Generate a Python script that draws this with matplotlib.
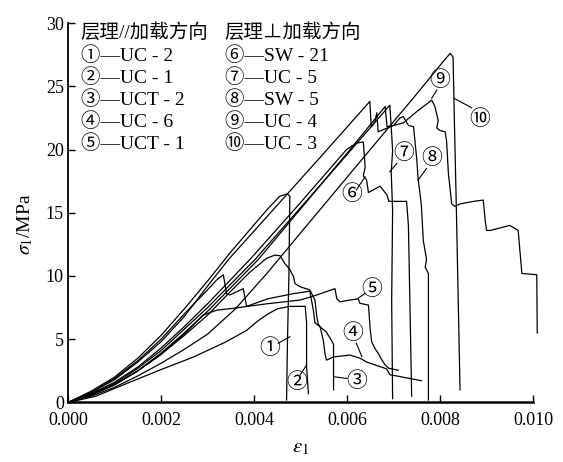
import matplotlib.pyplot as plt
import numpy as np

plt.rcParams['font.family'] = ['Liberation Serif', 'Noto Sans CJK SC', 'DejaVu Sans']
plt.rcParams['mathtext.fontset'] = 'stix'

# strain in units of 1e-3, stress in MPa
c1_e = [0, 0.5, 1.0, 1.5, 2.0, 2.5, 3.0, 3.5, 4.27, 4.55, 4.72, 4.77, 4.75, 4.72, 4.70]
c1_s = [0, 0.9, 2.0, 3.5, 5.3, 7.4, 9.6, 11.9, 15.2, 16.3, 16.5, 16.3, 10.0, 5.0, 0.2]

c2_e = [0, 0.6, 1.26, 2.0, 2.7, 3.4, 3.84, 4.1, 4.3, 4.5, 4.77, 5.1, 5.13, 5.13, 5.17]
c2_s = [0, 0.5, 1.5, 2.6, 3.6, 4.8, 5.7, 6.5, 7.0, 7.4, 7.6, 7.6, 6.3, 2.8, 0.7]

c3_e = [0, 0.5, 1.0, 1.5, 2.0, 2.5, 3.0, 3.2, 3.34, 3.41, 3.48, 3.77, 3.84, 4.3, 4.84,
        5.2, 5.28, 5.31, 5.38, 5.55, 5.65, 5.71, 5.71]
c3_s = [0, 0.8, 1.9, 3.3, 5.0, 7.0, 8.9, 9.7, 10.1, 8.6, 8.5, 9.0, 7.6, 8.2, 8.6,
        8.8, 7.2, 6.3, 6.1, 5.6, 5.0, 4.6, 1.0]

c4_e = [0, 0.5, 1.0, 1.5, 2.0, 2.5, 3.0, 3.5, 3.91, 4.27, 4.45, 4.56, 4.66, 4.77, 4.85,
        4.88, 4.99, 5.2, 5.31, 5.35, 5.38, 5.42, 5.49, 5.53, 5.56, 5.71, 6.06, 6.28,
        6.42, 6.85, 6.92, 7.35, 7.6]
c4_s = [0, 0.6, 1.4, 2.5, 3.8, 5.3, 6.9, 8.8, 10.3, 11.4, 11.65, 11.6, 11.0, 10.5, 9.95,
        9.4, 9.15, 8.9, 8.1, 6.8, 6.2, 6.0, 4.9, 3.75, 3.35, 3.6, 3.75, 3.5,
        3.2, 2.66, 2.2, 1.9, 1.72]

c5_e = [0, 0.5, 1.0, 1.5, 2.0, 2.5, 2.9, 3.2, 3.56, 4.27, 4.99, 5.27, 5.74, 5.78, 5.85,
        6.06, 6.24, 6.28, 6.46, 6.5, 6.53, 6.6, 6.67, 6.75, 6.82, 6.9, 7.1]
c5_s = [0, 0.6, 1.4, 2.5, 3.8, 5.4, 6.9, 7.3, 7.45, 7.8, 8.1, 8.4, 9.0, 8.2, 7.96,
        8.1, 8.2, 7.84, 7.7, 5.73, 4.8, 4.28, 3.88, 3.36, 2.96, 2.7, 2.55]

c6_e = [0, 0.5, 1.0, 1.5, 2.0, 2.5, 3.0, 3.91, 5.0, 5.99, 6.2, 6.35, 6.39, 6.35, 6.42,
        6.46, 6.71, 6.86, 6.9, 7.28, 7.32, 7.39]
c6_s = [0, 0.7, 1.6, 2.8, 4.3, 6.0, 7.8, 11.3, 15.8, 20.0, 20.5, 20.6, 18.6, 17.9, 17.6,
        16.6, 17.1, 16.4, 15.9, 15.9, 14.0, 0.5]

c7_e = [0, 0.5, 1.0, 1.5, 2.0, 2.5, 3.0, 4.02, 5.0, 6.0, 6.92, 6.95, 6.98, 6.95, 6.98, 6.96, 6.98]
c7_s = [0, 0.7, 1.5, 2.7, 4.1, 5.8, 7.5, 11.3, 15.4, 19.6, 23.5, 21.8, 19.9, 18.2, 15.2, 8.0, 0.3]

c8_e = [0, 0.5, 1.0, 1.5, 2.0, 2.5, 3.0, 4.09, 5.0, 6.0, 6.82, 6.86, 7.0, 7.14, 7.21,
        7.32, 7.43, 7.46, 7.5, 7.53, 7.57, 7.6, 7.64, 7.71, 7.68, 7.75, 7.75]
c8_s = [0, 0.6, 1.4, 2.5, 3.9, 5.5, 7.2, 11.3, 15.3, 19.7, 23.4, 21.8, 21.9, 22.5, 22.6,
        21.9, 21.8, 20.7, 19.2, 17.6, 16.5, 15.5, 12.8, 11.3, 10.7, 10.2, 0.2]

c9_e = [0, 0.5, 1.0, 1.5, 2.0, 2.5, 3.0, 3.45, 4.5, 5.5, 6.49, 6.52, 6.6, 6.64, 6.67,
        7.0, 7.21, 7.5, 7.82, 7.89, 7.96, 7.93, 8.0, 8.11, 8.14, 8.18, 8.21, 8.25,
        8.32, 8.43, 8.72, 8.93, 8.97, 9.0, 9.08, 9.5, 9.68, 9.76, 10.08, 10.09]
c9_s = [0, 0.8, 1.8, 3.2, 4.8, 6.8, 9.2, 11.3, 15.6, 19.7, 23.8, 21.8, 22.2, 22.9, 21.4,
        21.9, 22.1, 23.0, 23.9, 23.4, 22.3, 21.7, 21.5, 21.4, 20.7, 18.1, 17.1, 15.7,
        15.5, 15.7, 15.9, 16.0, 14.4, 13.6, 13.6, 14.0, 13.6, 10.2, 10.1, 5.5]

c10_e = [0, 0.5, 1.0, 1.5, 2.0, 2.5, 3.0, 3.6, 4.3, 5.0, 6.0, 7.0, 7.5, 7.9, 8.1, 8.22,
         8.28, 8.31, 8.35, 8.43]
c10_s = [0, 0.5, 1.2, 2.1, 3.1, 4.2, 5.4, 7.4, 10.3, 13.4, 17.8, 22.2, 24.4, 26.2, 27.1, 27.6,
         27.3, 22.0, 15.5, 1.0]

curves = [(c1_e, c1_s), (c2_e, c2_s), (c3_e, c3_s), (c4_e, c4_s), (c5_e, c5_s),
          (c6_e, c6_s), (c7_e, c7_s), (c8_e, c8_s), (c9_e, c9_s), (c10_e, c10_s)]

marks = ['①', '②', '③', '④', '⑤', '⑥', '⑦', '⑧', '⑨', '⑩']
# label position, leader start, leader end (strain 1e-3, MPa)
label_xy = [(4.33, 4.2), (4.92, 1.5), (6.2, 1.64), (6.12, 5.4), (6.53, 8.9),
            (6.1, 16.4), (7.21, 19.6), (7.82, 19.2), (8.0, 25.4), (8.86, 22.3)]
lead_a = [(4.52, 4.68), (4.99, 2.17), (6.0, 1.9), (6.2, 4.68), (6.39, 8.63),
          (6.2, 16.8), (7.07, 18.9), (7.71, 18.5), (7.93, 24.7), (8.68, 23.3)]
lead_b = [(4.77, 5.2), (5.13, 2.96), (5.71, 2.04), (6.32, 3.62), (6.24, 8.24),
          (6.39, 17.85), (6.92, 18.25), (7.53, 17.6), (7.82, 24.05), (8.3, 24.05)]

group_a = ['层理//加载方向', '①—UC - 2', '②—UC - 1', '③—UCT - 2', '④—UC - 6', '⑤—UCT - 1']
group_b = ['层理⊥加载方向', '⑥—SW - 21', '⑦—UC - 5', '⑧—SW - 5', '⑨—UC - 4', '⑩—UC - 3']

fig = plt.figure(figsize=(5.63, 4.62), dpi=100)
ax = fig.add_axes([0.1208, 0.1288, 0.826, 0.8214])

for e, s in curves:
    ax.plot(np.array(e) * 1e-3, s, color='black', lw=0.9, clip_on=False)

for m, p, a, b in zip(marks, label_xy, lead_a, lead_b):
    ax.text(p[0] * 1e-3, p[1], m, fontsize=15, ha='center', va='center')
    ax.plot([a[0] * 1e-3, b[0] * 1e-3], [a[1], b[1]], color='black', lw=0.8)

for i, t in enumerate(group_a):
    ax.text(0.00027, 29.2 - i * 1.74, t, fontsize=14, va='center', ha='left')
for i, t in enumerate(group_b):
    ax.text(0.00337, 29.2 - i * 1.74, t, fontsize=14, va='center', ha='left')

ax.set_xlim(0, 0.010)
ax.set_ylim(0, 30)
ax.set_xticks([0, 0.002, 0.004, 0.006, 0.008, 0.010])
ax.set_xticklabels(['0.000', '0.002', '0.004', '0.006', '0.008', '0.010'])
ax.set_yticks([0, 5, 10, 15, 20, 25, 30])
ax.tick_params(direction='in', length=5, width=1, labelsize=13)
ax.tick_params(axis='x', pad=7)
ax.tick_params(axis='y', pad=3)
for side in ['top', 'right']:
    ax.spines[side].set_visible(False)
ax.spines['left'].set_linewidth(1.3)
ax.spines['bottom'].set_linewidth(1.8)

ax.set_xlabel(r'$\varepsilon_1$', fontsize=15)
ax.xaxis.set_label_coords(0.5, -0.095)
ax.set_ylabel(r'$\sigma_1$/MPa', fontsize=14)
ax.yaxis.set_label_coords(-0.07, 0.47)

fig.savefig('out.png', dpi=100)
